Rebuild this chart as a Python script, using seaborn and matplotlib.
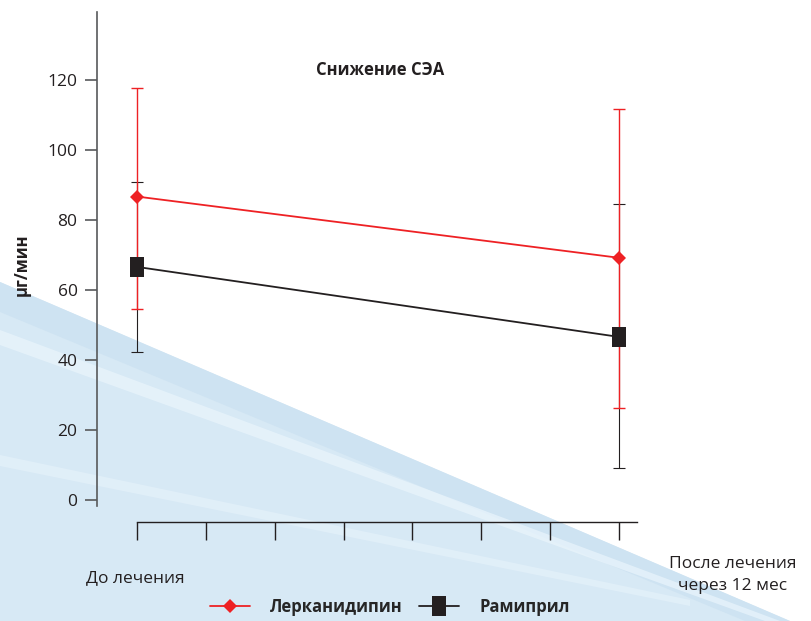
import pandas as pd
import matplotlib.pyplot as plt
import seaborn as sns
from matplotlib.lines import Line2D
from matplotlib.patches import Polygon

# данные
periods = [0, 7]  # До лечения / После лечения через 12 мес
groups = ['Лерканидипин', 'Рамиприл']
lerk_mean = [86.7, 69.2]
lerk_low = [54.7, 26.3]
lerk_high = [117.8, 111.6]
rami_mean = [66.6, 46.6]
rami_low = [42.2, 9.2]
rami_high = [90.8, 84.6]
y_ticks = [0, 20, 40, 60, 80, 100, 120]

df = pd.DataFrame({
    'period': periods * 2,
    'group': [groups[0]] * 2 + [groups[1]] * 2,
    'value': lerk_mean + rami_mean,
})

sns.set_theme(style='white')
plt.rcParams['font.family'] = ['Open Sans', 'DejaVu Sans']

RED = '#ee2124'
BLACK = '#231f20'
rect = [(-0.65, -1), (0.65, -1), (0.65, 1), (-0.65, 1), (-0.65, -1)]

fig = plt.figure(figsize=(8.12, 6.21), dpi=100)
fig.patch.set_facecolor('white')

# фон: голубая волна
bg = fig.add_axes([0, 0, 1, 1], zorder=-1)
bg.set_xlim(0, 812)
bg.set_ylim(621, 0)
bg.axis('off')
bg.add_patch(Polygon([(0, 282), (790, 621), (0, 621)], color='#d7e9f5', lw=0))
bg.add_patch(Polygon([(0, 282), (790, 621), (745, 621), (0, 312)], color='#cee3f2', lw=0))
bg.add_patch(Polygon([(0, 330), (780, 621), (765, 621), (0, 345)], color='#eaf5fc', lw=0, alpha=0.7))
bg.add_patch(Polygon([(0, 455), (690, 600), (690, 606), (0, 466)], color='#eaf5fc', lw=0, alpha=0.5))

W, H = 812, 621
ax_left, ax_right, ax_top, ax_bot = 97, 660, 12, 545
ax = fig.add_axes([ax_left / W, 1 - ax_bot / H, (ax_right - ax_left) / W, (ax_bot - ax_top) / H])
ax.set_facecolor('none')

pxu = (619 - 137) / 7
ax.set_xlim((ax_left - 137) / pxu, (ax_right - 137) / pxu)
ax.set_ylim((500 - ax_bot) / 3.5, (500 - ax_top) / 3.5)

# усы
ax.errorbar(periods, rami_mean,
            yerr=[[m - l for m, l in zip(rami_mean, rami_low)],
                  [h - m for m, h in zip(rami_mean, rami_high)]],
            fmt='none', ecolor=BLACK, elinewidth=0.8, capsize=4.5, capthick=0.8, zorder=2)
ax.errorbar(periods, lerk_mean,
            yerr=[[m - l for m, l in zip(lerk_mean, lerk_low)],
                  [h - m for m, h in zip(lerk_mean, lerk_high)]],
            fmt='none', ecolor=RED, elinewidth=1.0, capsize=4.5, capthick=1.0, zorder=3)

sns.lineplot(data=df, x='period', y='value', hue='group', style='group',
             palette={groups[0]: RED, groups[1]: BLACK},
             markers={groups[0]: 'D', groups[1]: rect}, dashes=False,
             linewidth=1.3, markersize=0, legend=False, ax=ax, zorder=4)
ax.plot(periods, lerk_mean, ls='none', marker='D', ms=7, color=RED, mec=RED, mew=0, zorder=5)
ax.plot(periods, rami_mean, ls='none', marker=rect, ms=14.5, color=BLACK, mec=BLACK, mew=0, zorder=5)

# оси
ax.spines['top'].set_visible(False)
ax.spines['right'].set_visible(False)
ax.spines['left'].set_color('#58595b')
ax.spines['left'].set_linewidth(1.2)
ax.spines['left'].set_bounds((500 - 506) / 3.5, (500 - ax_top) / 3.5)
ax.spines['bottom'].set_position(('data', (500 - 522) / 3.5))
ax.spines['bottom'].set_bounds(0, (637 - 137) / pxu)
ax.spines['bottom'].set_color(BLACK)
ax.spines['bottom'].set_linewidth(1.0)

ax.set_yticks(y_ticks)
ax.set_yticklabels([str(t) for t in y_ticks], fontsize=12.5, color='#231f20')
ax.tick_params(axis='y', which='both', left=True, length=9, width=1.2, color='#58595b', pad=5)
ax.set_xticks(range(8))
ax.set_xticklabels([''] * 8)
ax.tick_params(axis='x', which='both', bottom=True, length=13, width=1.0, color=BLACK)
ax.set_xlabel('')
ax.set_ylabel('')

# подписи
fig.text(380 / W, 1 - 70 / H, 'Снижение СЭА', ha='center', va='center',
         fontsize=12, fontweight='bold', color=BLACK)
fig.text(22 / W, 1 - 265 / H, 'μг/мин', ha='center', va='center', rotation=90,
         fontsize=12, fontweight='bold', color=BLACK)
fig.text(135 / W, 1 - 578 / H, 'До лечения', ha='center', va='center',
         fontsize=12.5, color=BLACK)
fig.text(733 / W, 1 - 575 / H, 'После лечения\nчерез 12 мес', ha='center', va='center',
         fontsize=12.5, color=BLACK, linespacing=1.5)

handles = [
    Line2D([], [], color=RED, lw=1.3, marker='D', ms=7, mew=0),
    Line2D([], [], color=BLACK, lw=1.3, marker=rect, ms=14.5, mew=0),
]
fig.legend(handles, groups, loc='center', bbox_to_anchor=(390 / W, 1 - 607 / H),
           ncol=2, frameon=False, handlelength=2.4, columnspacing=1.0, handletextpad=1.2,
           prop={'weight': 'bold', 'size': 12})

fig.savefig('out.png', dpi=100, facecolor='white')
